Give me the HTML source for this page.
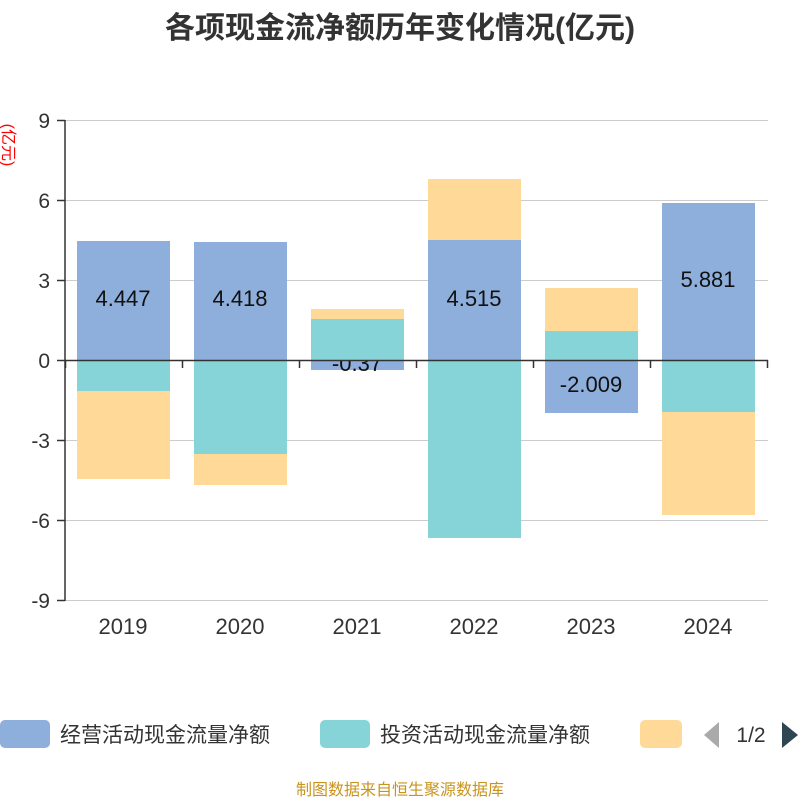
<!DOCTYPE html><html><head><meta charset="utf-8"><style>body{margin:0;background:#fff}svg{display:block}text{font-family:"Liberation Sans","Noto Sans CJK SC",sans-serif}</style></head><body>
<svg width="800" height="800" xmlns="http://www.w3.org/2000/svg">
<text x="400" y="38" text-anchor="middle" font-size="30" font-weight="bold" fill="#333">各项现金流净额历年变化情况(亿元)</text>
<text transform="translate(3,145) rotate(90)" text-anchor="middle" font-size="16" fill="#f00">(亿元)</text>
<g stroke="#ccc" stroke-width="1">
<line x1="65" y1="120.5" x2="768" y2="120.5"/><line x1="65" y1="200.5" x2="768" y2="200.5"/><line x1="65" y1="280.5" x2="768" y2="280.5"/><line x1="65" y1="440.5" x2="768" y2="440.5"/><line x1="65" y1="520.5" x2="768" y2="520.5"/><line x1="65" y1="600.5" x2="768" y2="600.5"/>
</g>
<g font-size="21" fill="#333" text-anchor="end">
<text x="50" y="128">9</text><text x="50" y="208">6</text><text x="50" y="288">3</text><text x="50" y="368">0</text><text x="50" y="448">-3</text><text x="50" y="528">-6</text><text x="50" y="608">-9</text>
</g>
<g stroke="#333" stroke-width="1.5">
<line x1="57" y1="120.5" x2="65" y2="120.5"/><line x1="57" y1="200.5" x2="65" y2="200.5"/><line x1="57" y1="280.5" x2="65" y2="280.5"/><line x1="57" y1="360.5" x2="65" y2="360.5"/><line x1="57" y1="440.5" x2="65" y2="440.5"/><line x1="57" y1="520.5" x2="65" y2="520.5"/><line x1="57" y1="600.5" x2="65" y2="600.5"/>
</g>
<g>
<rect x="77" y="241" width="93" height="119" fill="#8eaedb"/>
<rect x="77" y="360" width="93" height="31" fill="#86d4d8"/>
<rect x="77" y="391" width="93" height="88" fill="#fed998"/>
<rect x="194" y="242" width="93" height="118" fill="#8eaedb"/>
<rect x="194" y="360" width="93" height="94" fill="#86d4d8"/>
<rect x="194" y="454" width="93" height="31" fill="#fed998"/>
<rect x="311" y="360" width="93" height="10" fill="#8eaedb"/>
<text x="357" y="371" text-anchor="middle" font-size="22" fill="#111">-0.37</text>
<rect x="311" y="319" width="93" height="41" fill="#86d4d8"/>
<rect x="311" y="309" width="93" height="10" fill="#fed998"/>
<rect x="428" y="240" width="93" height="120" fill="#8eaedb"/>
<rect x="428" y="179" width="93" height="61" fill="#fed998"/>
<rect x="428" y="360" width="93" height="178" fill="#86d4d8"/>
<rect x="545" y="360" width="93" height="53" fill="#8eaedb"/>
<rect x="545" y="331" width="93" height="29" fill="#86d4d8"/>
<rect x="545" y="288" width="93" height="43" fill="#fed998"/>
<rect x="662" y="203" width="93" height="157" fill="#8eaedb"/>
<rect x="662" y="360" width="93" height="52" fill="#86d4d8"/>
<rect x="662" y="412" width="93" height="103" fill="#fed998"/>
</g>
<line x1="65" y1="120" x2="65" y2="601" stroke="#333" stroke-width="1.5"/>
<line x1="65" y1="360.5" x2="768" y2="360.5" stroke="#333" stroke-width="1.5"/>
<g stroke="#333" stroke-width="1.5">
<line x1="65.5" y1="360" x2="65.5" y2="368"/><line x1="182.5" y1="360" x2="182.5" y2="368"/><line x1="299.5" y1="360" x2="299.5" y2="368"/><line x1="416.5" y1="360" x2="416.5" y2="368"/><line x1="533.5" y1="360" x2="533.5" y2="368"/><line x1="650.5" y1="360" x2="650.5" y2="368"/><line x1="767.5" y1="360" x2="767.5" y2="368"/>
</g>
<g font-size="22" fill="#111" text-anchor="middle">
<text x="123" y="306">4.447</text><text x="240" y="306">4.418</text><text x="474" y="306">4.515</text><text x="591" y="392">-2.009</text><text x="708" y="287">5.881</text>
</g>
<g font-size="22" fill="#333" text-anchor="middle">
<text x="123" y="634">2019</text><text x="240" y="634">2020</text><text x="357" y="634">2021</text><text x="474" y="634">2022</text><text x="591" y="634">2023</text><text x="708" y="634">2024</text>
</g>
<rect x="0" y="720" width="50" height="28" rx="5" fill="#8eaedb"/>
<text x="60" y="742" font-size="21" fill="#333">经营活动现金流量净额</text>
<rect x="320" y="720" width="50" height="28" rx="5" fill="#86d4d8"/>
<text x="380" y="742" font-size="21" fill="#333">投资活动现金流量净额</text>
<rect x="640" y="720" width="42" height="28" rx="5" fill="#fed998"/>
<polygon points="719,722 719,748 704,735" fill="#aaa"/>
<text x="751" y="742" font-size="21" fill="#333" text-anchor="middle">1/2</text>
<polygon points="782,722 782,748 798,735" fill="#2f4554"/>
<text x="400" y="795" font-size="16" fill="#c8941e" text-anchor="middle">制图数据来自恒生聚源数据库</text>
</svg></body></html>
